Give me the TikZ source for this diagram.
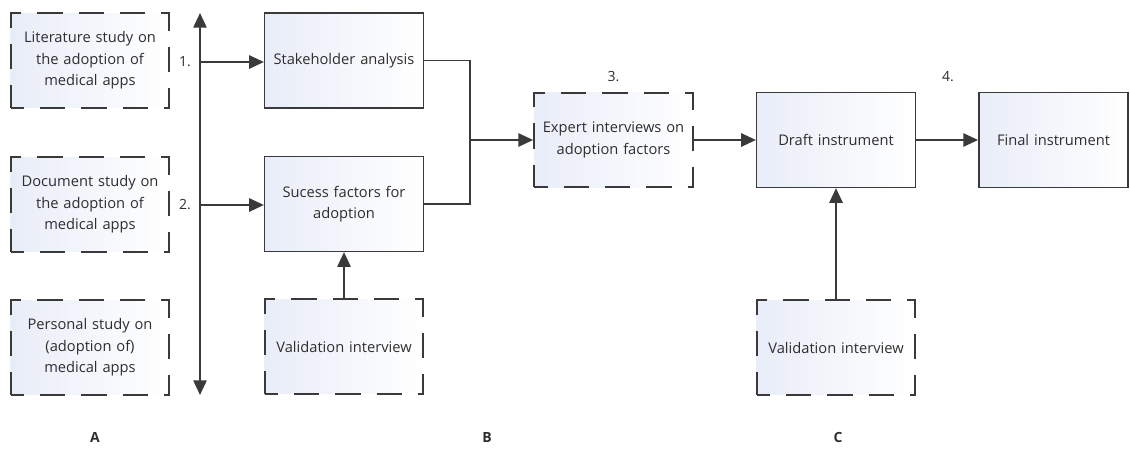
\documentclass[tikz,border=0pt]{standalone}
\usepackage{fontspec}
\setmainfont{Open Sans}
\usetikzlibrary{arrows.meta}
\definecolor{ink}{HTML}{2E2E2E}
\definecolor{linegray}{HTML}{3A3A3A}
\definecolor{boxtint}{HTML}{E9EDF8}
\begin{document}
\begin{tikzpicture}[x=0.75pt,y=-0.75pt,
  font=\fontsize{11}{16}\selectfont, text=ink,
  box/.style={draw=linegray, line width=1.2pt, left color=boxtint, right color=white,
    minimum width=119pt, minimum height=71pt, align=center, text width=116pt, inner sep=0pt},
  dbox/.style={box, line width=1.6pt, dash pattern=on 19pt off 12pt, dash phase=9pt},
  conn/.style={draw=linegray, line width=1.2pt},
  arr/.style={conn, -{Triangle[length=11pt,width=10pt]}},
  num/.style={font=\fontsize{10.5}{12}\selectfont},
  sect/.style={font=\fontsize{10.5}{12}\selectfont\bfseries}]
\useasboundingbox (0,0) rectangle (1130,451);

% column A: source studies
\node[dbox] (lit) at (90,60.5) {Literature study on\\the adoption of\\medical apps};
\node[dbox] (doc) at (90,204.5) {Document study on\\the adoption of\\medical apps};
\node[dbox] (pers) at (90,347.5) {Personal study on\\(adoption of)\\medical apps};

% shared input axis
\coordinate (vtop) at (200,13);
\coordinate (vbot) at (200,395);
\draw[conn, {Triangle[length=11pt,width=10pt]}-{Triangle[length=11pt,width=10pt]}] (vtop) -- (vbot);

% column B
\node[box] (stake) at (344,60.5) {Stakeholder analysis};
\node[box] (succ) at (344,204) {Sucess factors for\\adoption};
\node[dbox] (valb) at (344,346.5) {Validation interview};

\coordinate (a1) at (200,62);
\coordinate (a2) at (200,205);
\draw[arr] (a1) -- (a1 -| stake.west);
\draw[arr] (a2) -- (a2 -| succ.west);
\node[num] (n1) at (185,62) {1.};
\node[num] (n2) at (185,205) {2.};
\draw[arr] (valb.north) -- (succ.south);

% merge into expert interviews
\node[dbox] (expert) at (613.5,140) {Expert interviews on\\adoption factors};
\coordinate (join) at (470,140);
\draw[conn] (stake.east) -| (join);
\draw[conn] (succ.east) -| (join);
\draw[arr] (join) -- (expert.west);
\node[num] (n3) at (613.5,77) {3.};

% column C
\node[box] (draft) at (836,140) {Draft instrument};
\node[box, minimum width=112pt, text width=110pt] (final) at (1053.5,140) {Final instrument};
\node[dbox] (valc) at (836,347.5) {Validation interview};
\draw[arr] (expert.east) -- (draft.west);
\draw[arr] (draft.east) -- (final.west);
\draw[arr] (valc.north) -- (draft.south);
\node[num] (n4) at (948,77) {4.};

% section labels
\node[sect] (la) at (95,437) {A};
\node[sect] (lb) at (487,437) {B};
\node[sect] (lc) at (838,437) {C};
\end{tikzpicture}
\end{document}
